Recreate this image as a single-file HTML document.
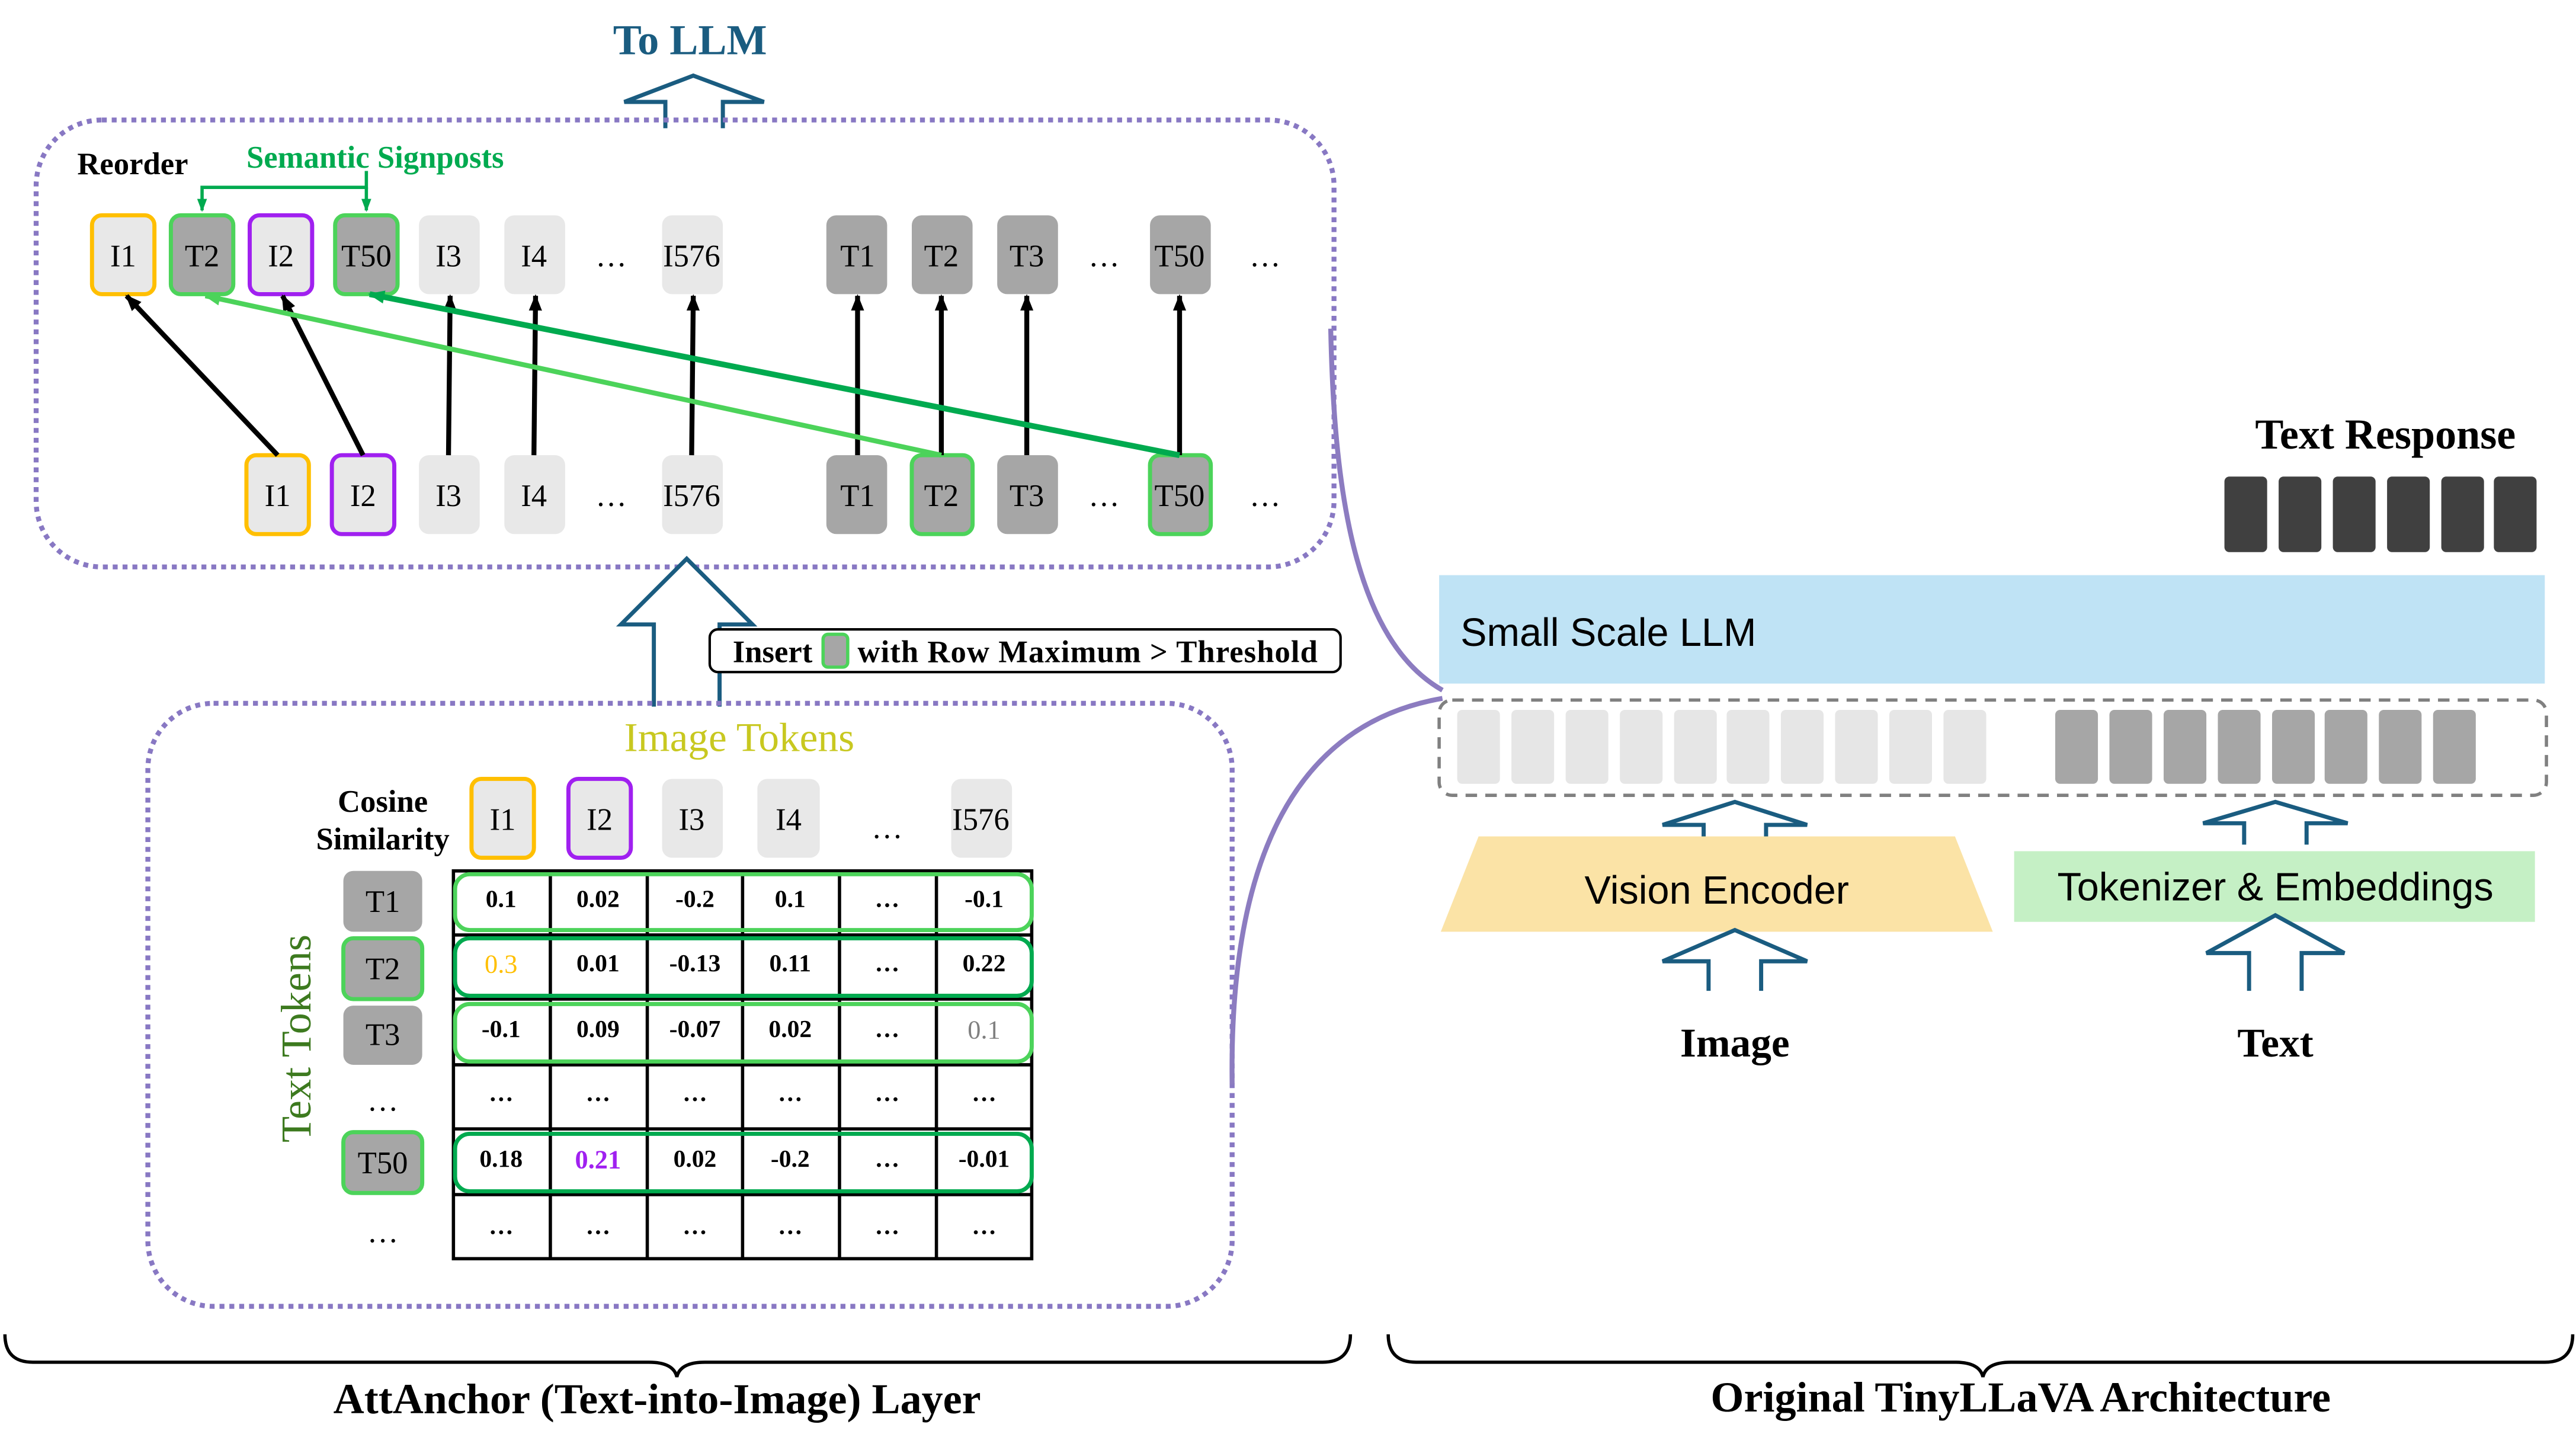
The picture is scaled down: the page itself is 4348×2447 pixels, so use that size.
<!DOCTYPE html>
<html><head><meta charset="utf-8"><style>
html,body{margin:0;padding:0;background:#fff;}
svg{display:block;}
text{font-family:"Liberation Serif",serif;}
</style></head><body>
<svg width="4348" height="2447" viewBox="0 0 1568 882.4" xmlns="http://www.w3.org/2000/svg">
<defs>
<marker id="ak" markerWidth="10" markerHeight="10" refX="9" refY="5" orient="auto" markerUnits="userSpaceOnUse"><path d="M0,1 L10,5 L0,9 z" fill="#000"/></marker>
<marker id="al" markerWidth="10" markerHeight="10" refX="9" refY="5" orient="auto" markerUnits="userSpaceOnUse"><path d="M0,1 L10,5 L0,9 z" fill="#4cd35a"/></marker>
<marker id="ad" markerWidth="10" markerHeight="10" refX="9" refY="5" orient="auto" markerUnits="userSpaceOnUse"><path d="M0,1 L10,5 L0,9 z" fill="#00aa4f"/></marker>
<marker id="as" markerWidth="8" markerHeight="8" refX="7" refY="4" orient="auto" markerUnits="userSpaceOnUse"><path d="M0,1 L8,4 L0,7 z" fill="#00aa4f"/></marker>
</defs>

<text x="420" y="33" font-size="26" font-weight="bold" fill="#1a5c80" text-anchor="middle">To LLM</text>
<path d="M405,78 L405,62 L380,62 L422,46 L465,62 L440,62 L440,78" fill="#fff" stroke="#1a5c80" stroke-width="2.5"/>

<rect x="22" y="73" width="790" height="272" rx="40" fill="none" stroke="#8878c3" stroke-width="3" stroke-dasharray="3,3"/>
<text x="47" y="106" font-size="19" font-weight="bold">Reorder</text>
<text x="150" y="102" font-size="19" font-weight="bold" fill="#00aa4f">Semantic Signposts</text>
<path d="M223,104 L223,114 L123,114 L123,128" fill="none" stroke="#00aa4f" stroke-width="2" marker-end="url(#as)"/>
<path d="M223,114 L223,128" fill="none" stroke="#00aa4f" stroke-width="2" marker-end="url(#as)"/>

<g font-size="19" text-anchor="middle">
<rect x="56" y="131" width="38" height="48" rx="6" fill="#e8e8e8" stroke="#ffbf00" stroke-width="2.5"/><text x="75" y="162">I1</text>
<rect x="104" y="131" width="38" height="48" rx="6" fill="#a6a6a6" stroke="#4cd35a" stroke-width="2.5"/><text x="123" y="162">T2</text>
<rect x="152" y="131" width="38" height="48" rx="6" fill="#e8e8e8" stroke="#a020f0" stroke-width="2.5"/><text x="171" y="162">I2</text>
<rect x="204" y="131" width="38" height="48" rx="6" fill="#a6a6a6" stroke="#4cd35a" stroke-width="2.5"/><text x="223" y="162">T50</text>
<rect x="255" y="131" width="37" height="48" rx="6" fill="#e8e8e8"/><text x="273" y="162">I3</text>
<rect x="307" y="131" width="37" height="48" rx="6" fill="#e8e8e8"/><text x="325" y="162">I4</text>
<text x="372" y="162">…</text>
<rect x="403" y="131" width="37" height="48" rx="6" fill="#e8e8e8"/><text x="421" y="162">I576</text>
<rect x="503" y="131" width="37" height="48" rx="6" fill="#a6a6a6"/><text x="522" y="162">T1</text>
<rect x="555" y="131" width="37" height="48" rx="6" fill="#a6a6a6"/><text x="573" y="162">T2</text>
<rect x="607" y="131" width="37" height="48" rx="6" fill="#a6a6a6"/><text x="625" y="162">T3</text>
<text x="672" y="162">…</text>
<rect x="700" y="131" width="37" height="48" rx="6" fill="#a6a6a6"/><text x="718" y="162">T50</text>
<text x="770" y="162">…</text>
<rect x="150" y="277" width="38" height="48" rx="6" fill="#e8e8e8" stroke="#ffbf00" stroke-width="2.5"/><text x="169" y="308">I1</text>
<rect x="202" y="277" width="38" height="48" rx="6" fill="#e8e8e8" stroke="#a020f0" stroke-width="2.5"/><text x="221" y="308">I2</text>
<rect x="255" y="277" width="37" height="48" rx="6" fill="#e8e8e8"/><text x="273" y="308">I3</text>
<rect x="307" y="277" width="37" height="48" rx="6" fill="#e8e8e8"/><text x="325" y="308">I4</text>
<text x="372" y="308">…</text>
<rect x="403" y="277" width="37" height="48" rx="6" fill="#e8e8e8"/><text x="421" y="308">I576</text>
<rect x="503" y="277" width="37" height="48" rx="6" fill="#a6a6a6"/><text x="522" y="308">T1</text>
<rect x="555" y="277" width="37" height="48" rx="6" fill="#a6a6a6" stroke="#4cd35a" stroke-width="2.5"/><text x="573" y="308">T2</text>
<rect x="607" y="277" width="37" height="48" rx="6" fill="#a6a6a6"/><text x="625" y="308">T3</text>
<text x="672" y="308">…</text>
<rect x="700" y="277" width="37" height="48" rx="6" fill="#a6a6a6" stroke="#4cd35a" stroke-width="2.5"/><text x="718" y="308">T50</text>
<text x="770" y="308">…</text>
</g>

<g stroke="#000" stroke-width="3" fill="none">
<line x1="169" y1="277" x2="77" y2="180" marker-end="url(#ak)"/>
<line x1="221" y1="277" x2="172" y2="180" marker-end="url(#ak)"/>
<line x1="273" y1="277" x2="274" y2="180" marker-end="url(#ak)"/>
<line x1="325" y1="277" x2="326" y2="180" marker-end="url(#ak)"/>
<line x1="421" y1="277" x2="422" y2="180" marker-end="url(#ak)"/>
<line x1="522" y1="277" x2="522" y2="180" marker-end="url(#ak)"/>
<line x1="573" y1="277" x2="573" y2="180" marker-end="url(#ak)"/>
<line x1="625" y1="277" x2="625" y2="180" marker-end="url(#ak)"/>
<line x1="718" y1="277" x2="718" y2="180" marker-end="url(#ak)"/>
</g>
<line x1="573" y1="277" x2="125" y2="180" stroke="#4cd35a" stroke-width="3" marker-end="url(#al)"/>
<line x1="718" y1="277" x2="225" y2="179" stroke="#00aa4f" stroke-width="3.5" marker-end="url(#ad)"/>

<path d="M398,430 L398,380 L378,380 L418,340 L458,380 L438,380 L438,430" fill="#fff" stroke="#1a5c80" stroke-width="2.5"/>
<rect x="432" y="383" width="384" height="26" rx="5" fill="#fff" stroke="#000" stroke-width="1.5"/>
<text x="446" y="403" font-size="19" font-weight="bold">Insert</text>
<rect x="501" y="386" width="15" height="20" rx="3" fill="#a6a6a6" stroke="#4cd35a" stroke-width="2"/>
<text x="522" y="403" font-size="19" font-weight="bold" textLength="280">with Row Maximum &gt; Threshold</text>

<rect x="90" y="428" width="660" height="367" rx="40" fill="none" stroke="#8878c3" stroke-width="3" stroke-dasharray="3,3"/>
<text x="450" y="457" font-size="25" fill="#c8c820" text-anchor="middle">Image Tokens</text>
<text x="233" y="494" font-size="19" font-weight="bold" text-anchor="middle">Cosine</text>
<text x="233" y="517" font-size="19" font-weight="bold" text-anchor="middle">Similarity</text>
<g font-size="19" text-anchor="middle">
<rect x="287" y="474" width="38" height="48" rx="6" fill="#e8e8e8" stroke="#ffbf00" stroke-width="2.5"/><text x="306" y="505">I1</text>
<rect x="346" y="474" width="38" height="48" rx="6" fill="#e8e8e8" stroke="#a020f0" stroke-width="2.5"/><text x="365" y="505">I2</text>
<rect x="403" y="474" width="37" height="48" rx="6" fill="#e8e8e8"/><text x="421" y="505">I3</text>
<rect x="461" y="474" width="38" height="48" rx="6" fill="#e8e8e8"/><text x="480" y="505">I4</text>
<text x="540" y="510">…</text>
<rect x="579" y="474" width="37" height="48" rx="6" fill="#e8e8e8"/><text x="597" y="505">I576</text>

<rect x="209" y="530" width="48" height="37" rx="6" fill="#a6a6a6"/><text x="233" y="555">T1</text>
<rect x="209" y="571" width="48" height="37" rx="6" fill="#a6a6a6" stroke="#4cd35a" stroke-width="2.5"/><text x="233" y="596">T2</text>
<rect x="209" y="612" width="48" height="36" rx="6" fill="#a6a6a6"/><text x="233" y="636">T3</text>
<text x="233" y="676">…</text>
<rect x="209" y="689" width="48" height="37" rx="6" fill="#a6a6a6" stroke="#4cd35a" stroke-width="2.5"/><text x="233" y="714">T50</text>
<text x="233" y="756">…</text>
</g>
<text transform="translate(189,632) rotate(-90)" font-size="26" fill="#3d7a1f" text-anchor="middle">Text Tokens</text>

<g stroke="#000" stroke-width="2" fill="none">
<rect x="276" y="530" width="352" height="236" fill="#fff"/>
<line x1="335" y1="530" x2="335" y2="766"/><line x1="394" y1="530" x2="394" y2="766"/><line x1="452" y1="530" x2="452" y2="766"/><line x1="511" y1="530" x2="511" y2="766"/><line x1="570" y1="530" x2="570" y2="766"/>
<line x1="276" y1="569" x2="628" y2="569"/><line x1="276" y1="608" x2="628" y2="608"/><line x1="276" y1="648" x2="628" y2="648"/><line x1="276" y1="687" x2="628" y2="687"/><line x1="276" y1="727" x2="628" y2="727"/>
</g>
<g fill="none" stroke-width="2.5">
<rect x="277" y="532" width="351" height="34" rx="9" stroke="#4cd35a"/>
<rect x="277" y="571" width="351" height="35" rx="9" stroke="#00aa4f"/>
<rect x="277" y="611" width="351" height="35" rx="9" stroke="#4cd35a"/>
<rect x="277" y="690" width="351" height="35" rx="9" stroke="#00aa4f"/>
</g>
<g font-size="15" font-weight="bold" text-anchor="middle">
<text x="305" y="552">0.1</text><text x="364" y="552">0.02</text><text x="423" y="552">-0.2</text><text x="481" y="552">0.1</text><text x="540" y="552">…</text><text x="599" y="552">-0.1</text>
<text x="305" y="592" fill="#ffbf00" font-size="16" font-weight="normal">0.3</text><text x="364" y="591">0.01</text><text x="423" y="591">-0.13</text><text x="481" y="591">0.11</text><text x="540" y="591">…</text><text x="599" y="591">0.22</text>
<text x="305" y="631">-0.1</text><text x="364" y="631">0.09</text><text x="423" y="631">-0.07</text><text x="481" y="631">0.02</text><text x="540" y="631">…</text><text x="599" y="632" fill="#808080" font-size="16" font-weight="normal">0.1</text>
<text x="305" y="670">…</text><text x="364" y="670">…</text><text x="423" y="670">…</text><text x="481" y="670">…</text><text x="540" y="670">…</text><text x="599" y="670">…</text>
<text x="305" y="710">0.18</text><text x="364" y="711" fill="#a020f0" font-size="16">0.21</text><text x="423" y="710">0.02</text><text x="481" y="710">-0.2</text><text x="540" y="710">…</text><text x="599" y="710">-0.01</text>
<text x="305" y="751">…</text><text x="364" y="751">…</text><text x="423" y="751">…</text><text x="481" y="751">…</text><text x="540" y="751">…</text><text x="599" y="751">…</text>
</g>

<path d="M810,200 C812,300 825,390 878,420" fill="none" stroke="#8c7cc0" stroke-width="3"/>
<path d="M750,660 C748,520 790,440 878,425" fill="none" stroke="#8c7cc0" stroke-width="3"/>

<text x="1452" y="273" font-size="26" font-weight="bold" text-anchor="middle">Text Response</text>
<g fill="#404040">
<rect x="1354" y="290" width="26" height="46" rx="3"/><rect x="1387" y="290" width="26" height="46" rx="3"/><rect x="1420" y="290" width="26" height="46" rx="3"/><rect x="1453" y="290" width="26" height="46" rx="3"/><rect x="1486" y="290" width="26" height="46" rx="3"/><rect x="1518" y="290" width="26" height="46" rx="3"/>
</g>
<rect x="876" y="350" width="673" height="66" fill="#bfe3f5"/>
<text x="889" y="393" font-size="24" style="font-family:'Liberation Sans',sans-serif">Small Scale LLM</text>
<rect x="876" y="426" width="674" height="58" rx="8" fill="none" stroke="#808080" stroke-width="2" stroke-dasharray="7,5"/>
<g fill="#e6e6e6">
<rect x="887" y="432" width="26" height="45" rx="3"/><rect x="920" y="432" width="26" height="45" rx="3"/><rect x="953" y="432" width="26" height="45" rx="3"/><rect x="986" y="432" width="26" height="45" rx="3"/><rect x="1019" y="432" width="26" height="45" rx="3"/><rect x="1051" y="432" width="26" height="45" rx="3"/><rect x="1084" y="432" width="26" height="45" rx="3"/><rect x="1117" y="432" width="26" height="45" rx="3"/><rect x="1150" y="432" width="26" height="45" rx="3"/><rect x="1183" y="432" width="26" height="45" rx="3"/>
</g>
<g fill="#a6a6a6">
<rect x="1251" y="432" width="26" height="45" rx="3"/><rect x="1284" y="432" width="26" height="45" rx="3"/><rect x="1317" y="432" width="26" height="45" rx="3"/><rect x="1350" y="432" width="26" height="45" rx="3"/><rect x="1383" y="432" width="26" height="45" rx="3"/><rect x="1415" y="432" width="26" height="45" rx="3"/><rect x="1448" y="432" width="26" height="45" rx="3"/><rect x="1481" y="432" width="26" height="45" rx="3"/>
</g>
<path d="M1037,515 L1037,502 L1012,502 L1056,488 L1100,502 L1075,502 L1075,515" fill="#fff" stroke="#1a5c80" stroke-width="2.5"/>
<path d="M1366,514 L1366,501 L1341,501 L1385,488 L1429,501 L1404,501 L1404,514" fill="#fff" stroke="#1a5c80" stroke-width="2.5"/>
<path d="M900,509 L1190,509 L1213,567 L877,567 z" fill="#fbe3a6"/>
<text x="1045" y="550" font-size="24" text-anchor="middle" style="font-family:'Liberation Sans',sans-serif">Vision Encoder</text>
<rect x="1226" y="518" width="317" height="43" fill="#c5f0c5"/>
<text x="1385" y="548" font-size="24" text-anchor="middle" style="font-family:'Liberation Sans',sans-serif">Tokenizer &amp; Embeddings</text>
<path d="M1040,603 L1040,585 L1012,585 L1056,566 L1100,585 L1072,585 L1072,603" fill="#fff" stroke="#1a5c80" stroke-width="2.5"/>
<path d="M1369,603 L1369,580 L1343,580 L1385,557 L1427,580 L1401,580 L1401,603" fill="#fff" stroke="#1a5c80" stroke-width="2.5"/>
<text x="1056" y="643" font-size="25" font-weight="bold" text-anchor="middle">Image</text>
<text x="1385" y="643" font-size="25" font-weight="bold" text-anchor="middle">Text</text>

<path d="M3,812 Q3,829 20,829 L395,829 Q410,829 412,838 Q414,829 429,829 L805,829 Q822,829 822,812" fill="none" stroke="#000" stroke-width="2"/>
<path d="M845,812 Q845,829 862,829 L1190,829 Q1205,829 1207,838 Q1209,829 1224,829 L1549,829 Q1566,829 1566,812" fill="none" stroke="#000" stroke-width="2"/>
<text x="400" y="860" font-size="26" font-weight="bold" text-anchor="middle">AttAnchor (Text-into-Image) Layer</text>
<text x="1230" y="859" font-size="26" font-weight="bold" text-anchor="middle">Original TinyLLaVA Architecture</text>
</svg>
</body></html>
